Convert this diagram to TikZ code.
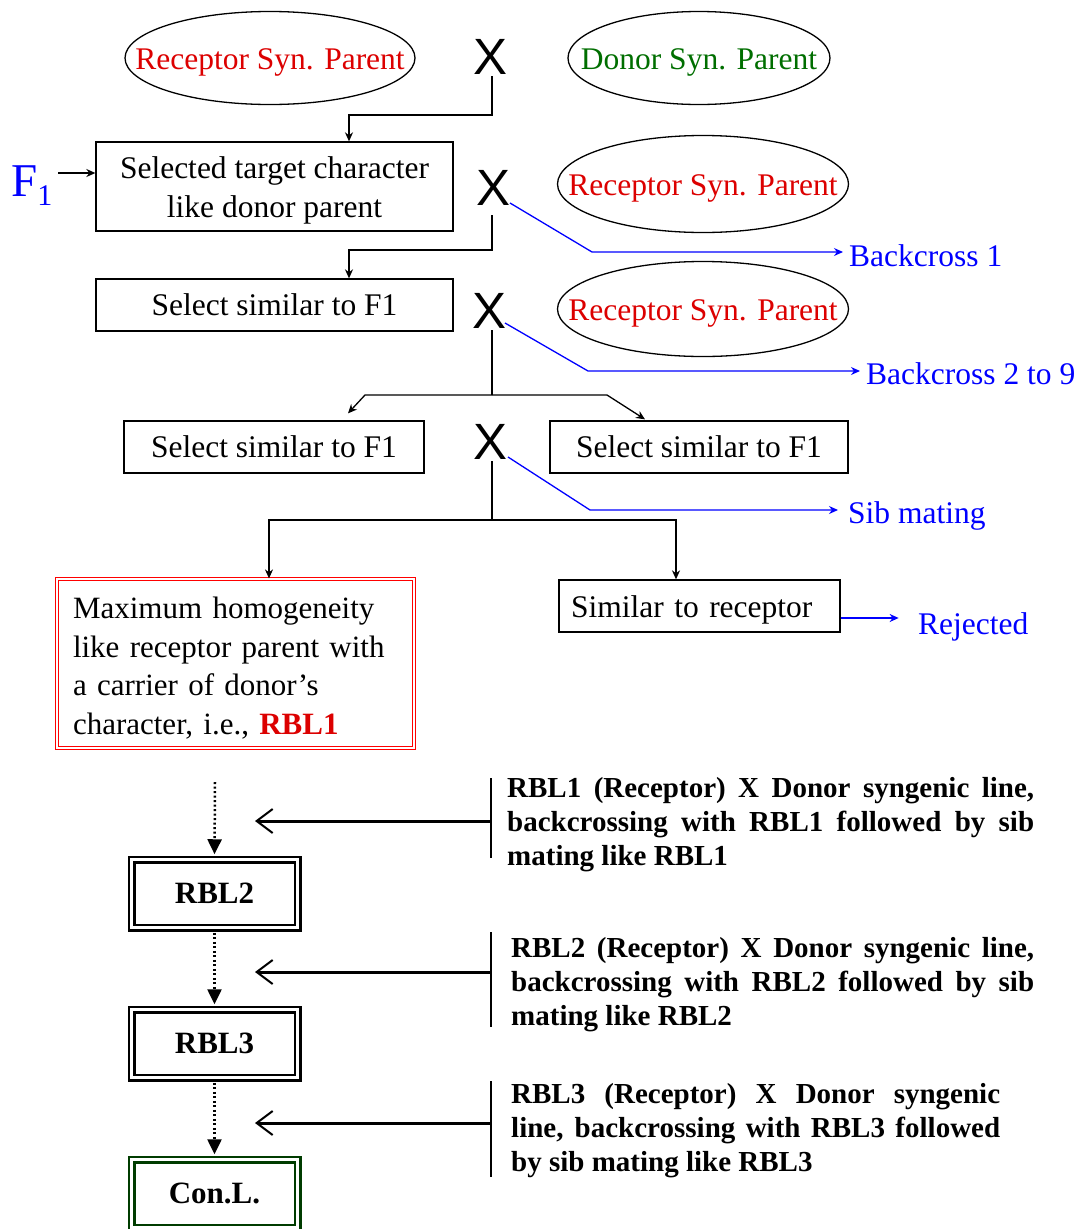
\documentclass[tikz,border=0pt]{standalone}
\usepackage{fontspec}
\setmainfont{Liberation Serif}
\newfontfamily\xfont{Liberation Sans}
\usetikzlibrary{shapes.geometric,arrows.meta,calc}
\definecolor{myred}{RGB}{220,0,0}
\definecolor{mygreen}{RGB}{0,110,0}
\definecolor{myblue}{RGB}{0,0,255}
\definecolor{dkgreen}{RGB}{0,60,0}
\newcommand{\lowr}[1]{\raisebox{-4pt}[\height][\depth]{#1}}
\begin{document}
\begin{tikzpicture}[x=1pt,y=-1pt,
  every node/.style={inner sep=0pt},
  ell/.style={ellipse,draw,line width=1.3pt,inner xsep=-40pt,inner ysep=0pt,font=\fontsize{31.5}{36}\selectfont},
  box/.style={rectangle,draw,line width=1.3pt,font=\fontsize{31.5}{39}\selectfont},
  xmark/.style={font=\xfont\fontsize{51}{51}\selectfont,inner sep=2pt},
  conn/.style={line width=1.3pt},
  arr/.style={line width=1.3pt,-{Stealth[length=9pt,width=8pt]}},
  barr/.style={myblue,line width=1.3pt,-{Stealth[length=9pt,width=8pt]}},
  blab/.style={text=myblue,font=\fontsize{31.5}{36}\selectfont},
  rbl/.style={rectangle,draw,double,line width=2.5pt,double distance=3pt,minimum width=166pt,minimum height=68pt,font=\bfseries\fontsize{31}{36}\selectfont},
  dotarr/.style={line width=2.5pt,dash pattern=on 2pt off 2.5pt,-{Triangle[length=15pt,width=14pt]},shorten >=4pt},
  brk/.style={line width=2pt},
  openarr/.style={line width=3pt,-{Straight Barb[length=16pt,width=24pt,line width=2pt]}},
  btext/.style={font=\bfseries\fontsize{29}{34}\selectfont,anchor=base west}
]
\useasboundingbox (0,0) rectangle (1084,1229);

% ellipses
\node[ell,minimum width=290pt,minimum height=93pt,text=myred] (e1) at (270,58) {\lowr{Receptor Syn. Parent}};
\node[ell,minimum width=262pt,minimum height=93pt,text=mygreen] (e2) at (699,58) {\lowr{Donor Syn. Parent}};
\node[ell,minimum width=291pt,minimum height=97pt,text=myred] (e3) at (703,184) {\lowr{Receptor Syn. Parent}};
\node[ell,minimum width=291pt,minimum height=95pt,text=myred] (e4) at (703,309) {\lowr{Receptor Syn. Parent}};

% X marks
\node[xmark,anchor=base] (x1) at (491,74) {X};
\node[xmark,anchor=base] (x2) at (494,205) {X};
\node[xmark,anchor=base] (x3) at (490,328) {X};
\node[xmark,anchor=base] (x4) at (491,459) {X};

% boxes
\node[box,minimum width=357pt,minimum height=89pt,align=center] (b1) at (274.5,186.5) {\rule{0pt}{29.5pt}Selected target character\\like donor parent};
\node[box,minimum width=357pt,minimum height=52pt] (b2) at (274.5,305) {Select similar to F1};
\node[box,minimum width=300pt,minimum height=52pt] (b3) at (274,447) {Select similar to F1};
\node[box,minimum width=298pt,minimum height=52pt] (b4) at (699,447) {Select similar to F1};
\node[box,draw=red,double,line width=1.2pt,double distance=2.3pt,text width=325pt,inner xsep=16pt,minimum height=169pt,align=left,font=\fontsize{31}{38.7}\selectfont] (b5) at (235.5,663.5) {\rule{0pt}{31pt}Maximum homogeneity\\like receptor parent with\\a carrier of donor’s\\character, i.e., {\bfseries\color{myred}RBL1}};
\node[box,text width=257pt,inner xsep=12pt,minimum height=52pt,align=left] (b6) at (699.5,606) {\lowr{Similar to receptor}};

% F1
\node[text=myblue,anchor=base west] (f1) at (11,196) {\fontsize{47}{50}\selectfont F\raisebox{-9pt}{\fontsize{30}{30}\selectfont 1}};
\coordinate (f1a) at (58,173);
\draw[arr] (f1a) -- (f1a -| b1.west);

% blue labels
\node[blab,anchor=base west] (bc1) at (849,266) {Backcross 1};
\node[blab,anchor=base west] (bc2) at (866,384) {Backcross 2 to 9};
\node[blab,anchor=base west] (sib) at (848,523) {Sib mating};
\node[blab,anchor=base west] (rej) at (918,634) {Rejected};

% black connectors
\coordinate (j1) at (492,115);
\draw[arr] (x1.south -| j1) -- (j1) -| ([xshift=74.5pt]b1.north);
\coordinate (j2t) at (492,215);
\coordinate (j2) at (492,250);
\draw[arr] (j2t) -- (j2) -| ([xshift=74.5pt]b2.north);
\coordinate (j3) at (492,395);
\coordinate (j3l) at (365,395);
\coordinate (j3r) at (607,395);
\draw[conn] (x3.south -| j3) -- (j3);
\draw[arr] (j3) -- (j3l) -- ([shift={(74,-7)}]b3.north);
\draw[arr] (j3) -- (j3r) -- ([shift={(-54,-1)}]b4.north);
\coordinate (j4) at (492,520);
\draw[conn] (x4.south -| j4) -- (j4);
\draw[arr] (j4) -| ([xshift=33.5pt]b5.north);
\draw[arr] (j4) -| ([xshift=-23.5pt]b6.north);

% blue connectors
\coordinate (k1) at (592,252);
\draw[barr,shorten >=6pt] ([shift={(16,-2)}]x2.base) -- (k1) -- (k1 -| bc1.west);
\coordinate (k2) at (588,371);
\draw[barr,shorten >=6pt] ([shift={(15,-5)}]x3.base) -- (k2) -- (k2 -| bc2.west);
\coordinate (k3) at (590,510);
\draw[barr,shorten >=10pt] ([shift={(17,-2)}]x4.base) -- (k3) -- (k3 -| sib.west);
\draw[barr] ([yshift=-12pt]b6.east) -- ++(58,0);

% bottom chain
\node[rbl] (r2) at (214.5,893.5) {RBL2};
\node[rbl] (r3) at (214.5,1043.5) {RBL3};
\node[rbl,draw=dkgreen] (cl) at (214.5,1193.5) {Con.L.};
\coordinate (d0) at (215,782);
\draw[dotarr] (d0) -- (r2.north);
\draw[dotarr,shorten <=4pt] (r2.south) -- (r3.north);
\draw[dotarr,shorten <=4pt] (r3.south) -- (cl.north);

% side notes
\node[btext] (t1) at (507,797) {\parbox[t]{527pt}{\makebox[527pt][s]{RBL1 (Receptor) X Donor syngenic line,}\\\makebox[527pt][s]{backcrossing with RBL1 followed by sib}\\mating like RBL1}};
\node[btext] (t2) at (511,957) {\parbox[t]{523pt}{\makebox[523pt][s]{RBL2 (Receptor) X Donor syngenic line,}\\\makebox[523pt][s]{backcrossing with RBL2 followed by sib}\\mating like RBL2}};
\node[btext] (t3) at (511,1103) {\parbox[t]{489pt}{\makebox[489pt][s]{RBL3 (Receptor) X Donor syngenic}\\\makebox[489pt][s]{line, backcrossing with RBL3 followed}\\by sib mating like RBL3}};

\coordinate (s1t) at (491,778); \coordinate (s1b) at (491,858);
\coordinate (s1m) at (491,821); \coordinate (a1) at (255,821);
\draw[brk] (s1t) -- (s1b);
\draw[openarr] (s1m) -- (a1);
\coordinate (s2t) at (491,932); \coordinate (s2b) at (491,1027);
\coordinate (s2m) at (491,972); \coordinate (a2) at (255,972);
\draw[brk] (s2t) -- (s2b);
\draw[openarr] (s2m) -- (a2);
\coordinate (s3t) at (491,1081); \coordinate (s3b) at (491,1177);
\coordinate (s3m) at (491,1123); \coordinate (a3) at (255,1123);
\draw[brk] (s3t) -- (s3b);
\draw[openarr] (s3m) -- (a3);
\end{tikzpicture}
\end{document}
